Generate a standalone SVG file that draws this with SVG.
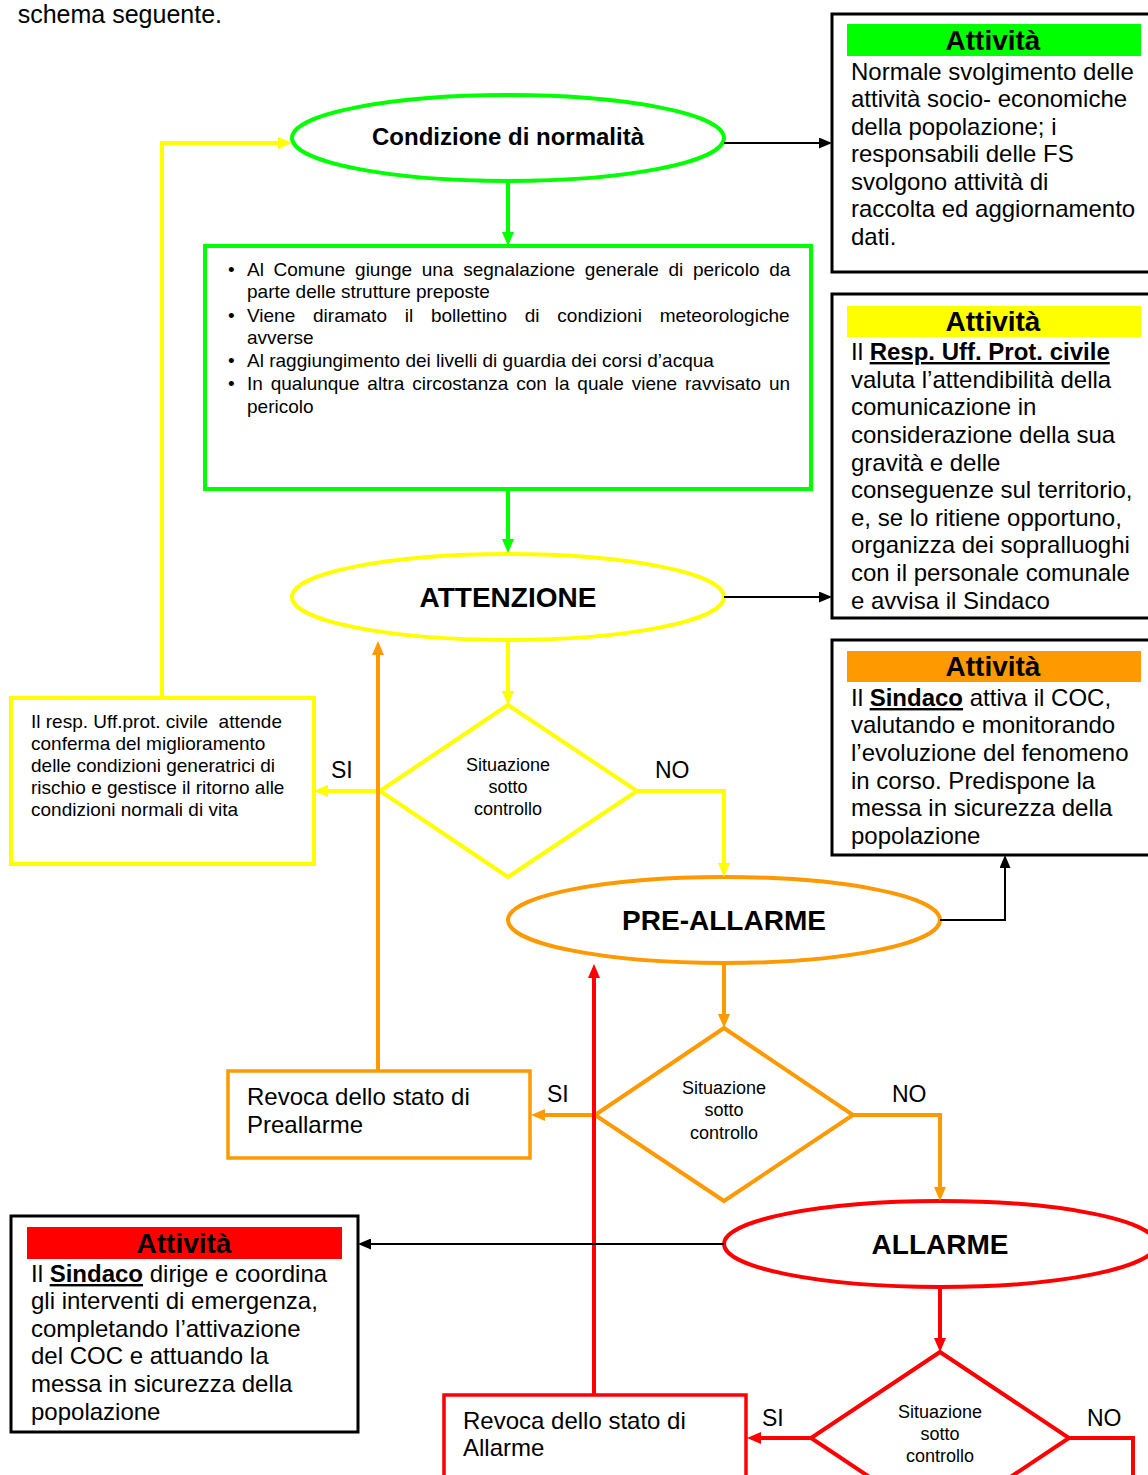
<svg xmlns="http://www.w3.org/2000/svg" width="1148" height="1475" viewBox="0 0 1148 1475">
<style>
text{font-family:"Liberation Sans",Arial,sans-serif;fill:#000}
.g{stroke:#00FF00}.y{stroke:#FFFF00}.o{stroke:#FF9900}.r{stroke:#FF0000}
.shape{fill:#fff;stroke-width:4}
.act{fill:#fff;stroke:#000;stroke-width:3}
.hdr{font-size:28px;font-weight:bold;text-anchor:middle}
.body{font-size:24px}
.small{font-size:19px}
.dia{font-size:18px;text-anchor:middle}
.lbl{font-size:23px}
.ell{font-size:28px;font-weight:bold;text-anchor:middle}
.conn{fill:none;stroke-width:4}
.bk{fill:none;stroke:#000;stroke-width:2}
.u{font-weight:bold;text-decoration:underline}
</style>
<defs>
<marker id="aG" markerUnits="userSpaceOnUse" markerWidth="14" markerHeight="12" viewBox="0 0 14 12" refX="6" refY="6" orient="auto"><path d="M0,0 L14,6 L0,12 z" fill="#00FF00"/></marker>
<marker id="aY" markerUnits="userSpaceOnUse" markerWidth="14" markerHeight="12" viewBox="0 0 14 12" refX="6" refY="6" orient="auto"><path d="M0,0 L14,6 L0,12 z" fill="#FFFF00"/></marker>
<marker id="aO" markerUnits="userSpaceOnUse" markerWidth="14" markerHeight="12" viewBox="0 0 14 12" refX="6" refY="6" orient="auto"><path d="M0,0 L14,6 L0,12 z" fill="#FF9900"/></marker>
<marker id="aR" markerUnits="userSpaceOnUse" markerWidth="14" markerHeight="12" viewBox="0 0 14 12" refX="6" refY="6" orient="auto"><path d="M0,0 L14,6 L0,12 z" fill="#FF0000"/></marker>
<marker id="aK" markerUnits="userSpaceOnUse" markerWidth="13" markerHeight="11" viewBox="0 0 13 11" refX="5" refY="5.5" orient="auto"><path d="M0,0 L13,5.5 L0,11 z" fill="#000"/></marker>
</defs>
<rect width="1148" height="1475" fill="#fff"/>

<text x="222" y="23" font-size="25" text-anchor="end">schema seguente.</text>

<g id="normalita">
<ellipse class="shape g" cx="508" cy="138" rx="216" ry="43"/>
<text x="508" y="145" font-size="24" font-weight="bold" text-anchor="middle">Condizione di normalità</text>
</g>

<g id="attivita-normalita">
<rect class="act" x="832" y="14" width="330" height="258"/>
<rect x="847" y="24" width="294" height="32" fill="#00FF00"/>
<text class="hdr" x="993" y="50">Attività</text>
<text class="body" x="851"><tspan x="851" y="80">Normale svolgimento delle</tspan><tspan x="851" y="107">attività socio- economiche</tspan><tspan x="851" y="135">della popolazione; i</tspan><tspan x="851" y="162">responsabili delle FS</tspan><tspan x="851" y="190">svolgono attività di</tspan><tspan x="851" y="217">raccolta ed aggiornamento</tspan><tspan x="851" y="245">dati.</tspan></text>
</g>

<g id="segnalazioni">
<rect class="shape g" x="205" y="246" width="606" height="243"/>
<g class="small">
<text x="228" y="276">•</text>
<text x="247" y="276" word-spacing="4.4">Al Comune giunge una segnalazione generale di pericolo da</text>
<text x="247" y="298">parte delle strutture preposte</text>
<text x="228" y="322">•</text>
<text x="247" y="322" word-spacing="12.5">Viene diramato il bollettino di condizioni meteorologiche</text>
<text x="247" y="344">avverse</text>
<text x="228" y="367">•</text>
<text x="247" y="367">Al raggiungimento dei livelli di guardia dei corsi d’acqua</text>
<text x="228" y="390">•</text>
<text x="247" y="390" word-spacing="2.6">In qualunque altra circostanza con la quale viene ravvisato un</text>
<text x="247" y="413">pericolo</text>
</g>
</g>

<g id="attenzione">
<ellipse class="shape y" cx="508" cy="597" rx="216" ry="43"/>
<text class="ell" x="508" y="607">ATTENZIONE</text>
</g>

<g id="attivita-attenzione">
<rect class="act" x="832" y="294" width="330" height="324"/>
<rect x="847" y="306" width="294" height="31" fill="#FFFF00"/>
<text class="hdr" x="993" y="331">Attività</text>
<text class="body"><tspan x="851" y="360">Il </tspan><tspan class="u">Resp. Uff. Prot. civile</tspan><tspan x="851" y="388">valuta l’attendibilità della</tspan><tspan x="851" y="415">comunicazione in</tspan><tspan x="851" y="443">considerazione della sua</tspan><tspan x="851" y="471">gravità e delle</tspan><tspan x="851" y="498">conseguenze sul territorio,</tspan><tspan x="851" y="526">e, se lo ritiene opportuno,</tspan><tspan x="851" y="553">organizza dei sopralluoghi</tspan><tspan x="851" y="581">con il personale comunale</tspan><tspan x="851" y="609">e avvisa il Sindaco</tspan></text>
</g>

<g id="decisione-attenzione">
<polygon class="shape y" points="508,705 637,791 508,877 380,791"/>
<text class="dia"><tspan x="508" y="771">Situazione</tspan><tspan x="508" y="793">sotto</tspan><tspan x="508" y="815">controllo</tspan></text>
</g>

<g id="ritorno-normalita">
<rect class="shape y" x="11" y="698" width="303" height="166"/>
<text class="small"><tspan x="31" y="728">Il resp. Uff.prot. civile&#160; attende</tspan><tspan x="31" y="750">conferma del miglioramento</tspan><tspan x="31" y="772">delle condizioni generatrici di</tspan><tspan x="31" y="794">rischio e gestisce il ritorno alle</tspan><tspan x="31" y="816">condizioni normali di vita</tspan></text>
</g>

<g id="preallarme">
<ellipse class="shape o" cx="724" cy="920" rx="216" ry="43"/>
<text class="ell" x="724" y="930">PRE-ALLARME</text>
</g>

<g id="attivita-preallarme">
<rect class="act" x="832" y="640" width="330" height="215"/>
<rect x="847" y="651" width="294" height="31" fill="#FF9900"/>
<text class="hdr" x="993" y="676">Attività</text>
<text class="body"><tspan x="851" y="706">Il </tspan><tspan class="u">Sindaco</tspan><tspan> attiva il COC,</tspan><tspan x="851" y="733">valutando e monitorando</tspan><tspan x="851" y="761">l’evoluzione del fenomeno</tspan><tspan x="851" y="789">in corso. Predispone la</tspan><tspan x="851" y="816">messa in sicurezza della</tspan><tspan x="851" y="844">popolazione</tspan></text>
</g>

<g id="decisione-preallarme">
<polygon class="shape o" points="724,1028 853,1115 724,1201 595,1115"/>
<text class="dia"><tspan x="724" y="1094">Situazione</tspan><tspan x="724" y="1116">sotto</tspan><tspan x="724" y="1139">controllo</tspan></text>
</g>

<g id="revoca-preallarme">
<rect class="shape o" x="228" y="1071" width="302" height="87" style="stroke-width:3.5"/>
<text class="body"><tspan x="247" y="1105">Revoca dello stato di</tspan><tspan x="247" y="1133">Preallarme</tspan></text>
</g>

<g id="allarme">
<ellipse class="shape r" cx="940" cy="1244" rx="216" ry="43"/>
<text class="ell" x="940" y="1254">ALLARME</text>
</g>

<g id="attivita-allarme">
<rect class="act" x="11" y="1216" width="347" height="216"/>
<rect x="27" y="1227" width="315" height="32" fill="#FF0000"/>
<text class="hdr" x="184" y="1253">Attività</text>
<text class="body"><tspan x="31" y="1282">Il </tspan><tspan class="u">Sindaco</tspan><tspan> dirige e coordina</tspan><tspan x="31" y="1309">gli interventi di emergenza,</tspan><tspan x="31" y="1337">completando l’attivazione</tspan><tspan x="31" y="1364">del COC e attuando la</tspan><tspan x="31" y="1392">messa in sicurezza della</tspan><tspan x="31" y="1420">popolazione</tspan></text>
</g>

<g id="decisione-allarme">
<polygon class="shape r" points="940,1352 1069,1438 940,1524 811,1438"/>
<text class="dia"><tspan x="940" y="1418">Situazione</tspan><tspan x="940" y="1440">sotto</tspan><tspan x="940" y="1462">controllo</tspan></text>
</g>

<g id="revoca-allarme">
<rect class="shape r" x="444" y="1395" width="302" height="100" style="stroke-width:3.5"/>
<text class="body"><tspan x="463" y="1429">Revoca dello stato di</tspan><tspan x="463" y="1456">Allarme</tspan></text>
</g>

<g id="connectors">
<path class="conn g" d="M508 183 V238" marker-end="url(#aG)"/>
<path class="conn g" d="M508 491 V545" marker-end="url(#aG)"/>
<path class="conn y" d="M508 642 V697" marker-end="url(#aY)"/>
<path class="conn y" d="M380 791 H322" marker-end="url(#aY)"/>
<path class="conn y" d="M637 791 H724 V869" marker-end="url(#aY)"/>
<path class="conn y" d="M162 698 V143 H284" marker-end="url(#aY)"/>
<path class="conn o" d="M378 1071 V649" marker-end="url(#aO)"/>
<path class="conn o" d="M724 965 V1020" marker-end="url(#aO)"/>
<path class="conn o" d="M595 1115 H539" marker-end="url(#aO)"/>
<path class="conn o" d="M853 1115 H940 V1193" marker-end="url(#aO)"/>
<path class="conn r" d="M594 1395 V972" marker-end="url(#aR)"/>
<path class="conn r" d="M940 1289 V1344" marker-end="url(#aR)"/>
<path class="conn r" d="M811 1438 H755" marker-end="url(#aR)"/>
<path class="conn r" d="M1069 1438 H1133 V1480"/>
<path class="bk" d="M724 143 H824" marker-end="url(#aK)"/>
<path class="bk" d="M724 597 H824" marker-end="url(#aK)"/>
<path class="bk" d="M940 920 H1005 V863" marker-end="url(#aK)"/>
<path class="bk" d="M724 1244 H366" marker-end="url(#aK)"/>
<text class="lbl" x="331" y="778">SI</text>
<text class="lbl" x="655" y="778">NO</text>
<text class="lbl" x="547" y="1102">SI</text>
<text class="lbl" x="892" y="1102">NO</text>
<text class="lbl" x="762" y="1426">SI</text>
<text class="lbl" x="1087" y="1426">NO</text>
</g>
</svg>
